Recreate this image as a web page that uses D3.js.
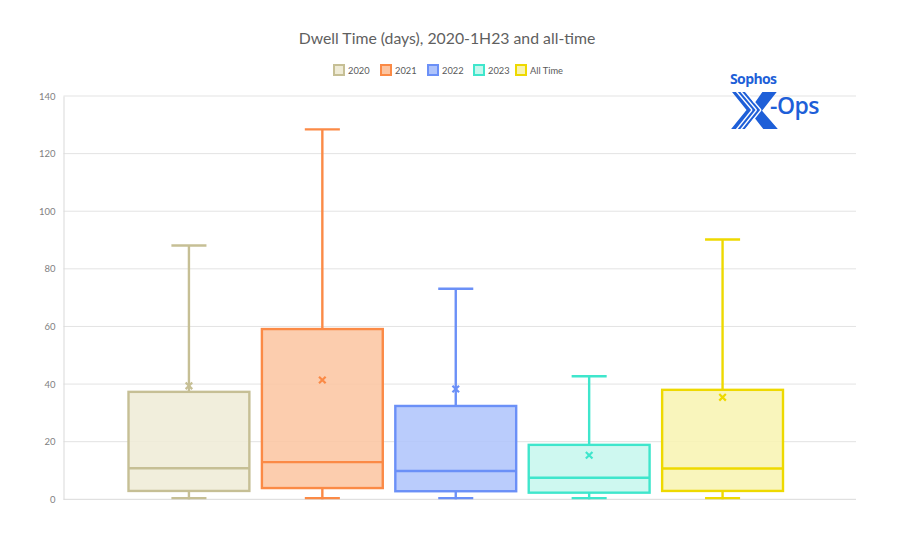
<!DOCTYPE html>
<html>
<head>
<meta charset="utf-8">
<script src="https://cdn.jsdelivr.net/npm/d3@7"></script>
<style>
  html, body { margin: 0; padding: 0; background: #fff; }
  svg { display: block; }
</style>
</head>
<body>
<svg id="chart" width="910" height="551"></svg>
<script>
// ---- data ----
const series = ["2020", "2021", "2022", "2023", "All Time"];
const whiskerMin = [0, 0, 0, 0, 0];
const q1 = [2.9, 3.9, 2.8, 2.3, 2.9];
const median = [10.8, 12.9, 9.8, 7.5, 10.7];
const q3 = [37.3, 59.1, 32.4, 18.9, 38.0];
const whiskerMax = [88.1, 128.4, 73.1, 42.7, 90.2];
const mean = [39.4, 41.4, 38.3, 15.3, 35.4];
const yTicks = [0, 20, 40, 60, 80, 100, 120, 140];
const strokeColors = ["#c6bf95", "#fb8a46", "#6b90f7", "#3fe6cc", "#eed900"];
const fillColors = ["#efebd6", "#fcc4a0", "#aec3fb", "#c5f7ed", "#f8f3b0"];

const svg = d3.select("#chart");
const font = "Lato, 'Open Sans', sans-serif";

const y = d3.scaleLinear().domain([0, 140]).range([499.3, 96]);
const x = d3.scaleBand().domain(series).range([128.5, 783]).paddingInner(0.094).paddingOuter(0);
const plotLeft = 63.5, plotRight = 856;

// gridlines
svg.append("g").selectAll("line").data(yTicks.filter(d => d > 0)).join("line")
  .attr("x1", plotLeft).attr("x2", plotRight)
  .attr("y1", d => y(d)).attr("y2", d => y(d))
  .attr("stroke", "#e3e3e3").attr("stroke-width", 1);

// y axis
const yAxis = d3.axisLeft(y).tickValues(yTicks).tickSize(0).tickPadding(8);
const gy = svg.append("g").attr("transform", `translate(${plotLeft},0)`).call(yAxis);
gy.select(".domain").attr("stroke", "#d9d9d9");
gy.selectAll("text").attr("fill", "#7f7f7f").attr("font-family", font).attr("font-size", 9.5);

// x axis line
svg.append("line").attr("x1", plotLeft).attr("x2", plotRight)
  .attr("y1", y(0)).attr("y2", y(0)).attr("stroke", "#d9d9d9").attr("stroke-width", 1);

// boxes
const data = series.map((s, i) => ({
  s, i, min: whiskerMin[i], q1: q1[i], med: median[i], q3: q3[i], max: whiskerMax[i], mean: mean[i]
}));
const bw = x.bandwidth();
const capW = bw * 0.29;
const sw = 2.4;

const g = svg.append("g").selectAll("g").data(data).join("g");
// whiskers
g.append("line").attr("x1", d => x(d.s) + bw / 2).attr("x2", d => x(d.s) + bw / 2)
  .attr("y1", d => y(d.q3)).attr("y2", d => y(d.max))
  .attr("stroke", d => strokeColors[d.i]).attr("stroke-width", sw);
g.append("line").attr("x1", d => x(d.s) + bw / 2).attr("x2", d => x(d.s) + bw / 2)
  .attr("y1", d => y(d.q1)).attr("y2", d => y(d.min))
  .attr("stroke", d => strokeColors[d.i]).attr("stroke-width", sw);
// caps
["max", "min"].forEach(k => {
  g.append("line")
    .attr("x1", d => x(d.s) + bw / 2 - capW / 2).attr("x2", d => x(d.s) + bw / 2 + capW / 2)
    .attr("y1", d => y(d[k]) - (k === "min" ? 1.2 : 0)).attr("y2", d => y(d[k]) - (k === "min" ? 1.2 : 0))
    .attr("stroke", d => strokeColors[d.i]).attr("stroke-width", sw);
});
// box
g.append("rect").attr("x", d => x(d.s)).attr("width", bw)
  .attr("y", d => y(d.q3)).attr("height", d => y(d.q1) - y(d.q3))
  .attr("fill", d => fillColors[d.i]).attr("fill-opacity", 0.85)
  .attr("stroke", d => strokeColors[d.i]).attr("stroke-width", sw);
// median
g.append("line").attr("x1", d => x(d.s)).attr("x2", d => x(d.s) + bw)
  .attr("y1", d => y(d.med)).attr("y2", d => y(d.med))
  .attr("stroke", d => strokeColors[d.i]).attr("stroke-width", sw);
// mean marker (x)
const m = 3.3;
g.append("path")
  .attr("d", d => {
    const cx = x(d.s) + bw / 2, cy = y(d.mean);
    return `M${cx - m},${cy - m}L${cx + m},${cy + m}M${cx - m},${cy + m}L${cx + m},${cy - m}`;
  })
  .attr("stroke", d => strokeColors[d.i]).attr("stroke-width", 2.2).attr("fill", "none");

// title
svg.append("text").attr("x", 447).attr("y", 44).attr("text-anchor", "middle")
  .attr("font-family", font).attr("font-size", 15.8).attr("fill", "#5f5f5f")
  .text("Dwell Time (days), 2020-1H23 and all-time");

// legend
const legendX = [333, 380, 427, 473, 515];
const lg = svg.append("g").selectAll("g").data(data).join("g")
  .attr("transform", d => `translate(${legendX[d.i]},64)`);
lg.append("rect").attr("x", 1).attr("y", 1).attr("width", 10).attr("height", 10)
  .attr("fill", d => fillColors[d.i]).attr("stroke", d => strokeColors[d.i]).attr("stroke-width", 2);
lg.append("text").attr("x", 15).attr("y", 9.5)
  .attr("font-family", font).attr("font-size", 9.3).attr("fill", "#595959")
  .text(d => d.s);

// logo
const logo = svg.append("g").attr("font-family", "'Open Sans', Roboto, sans-serif").attr("fill", "#1e5fd8");
const lt = logo.append("text");
lt.append("tspan").attr("x", 730).attr("y", 84).attr("font-size", 14).attr("font-weight", 700)
  .attr("letter-spacing", -0.6).text("Sophos");
lt.append("tspan").attr("x", 731).attr("y", 129).attr("font-size", 52).attr("font-weight", 800)
  .attr("letter-spacing", 0)
  .attr("textLength", 47).attr("lengthAdjust", "spacingAndGlyphs").text("X");
lt.append("tspan").attr("x", 770).attr("y", 114).attr("font-size", 23).attr("font-weight", 600)
  .attr("letter-spacing", -0.5).text("-Ops");
// stripes on the X
const stripes = logo.append("g").attr("stroke", "#fff").attr("stroke-width", 1.3);
[0, 4.5, 9].forEach(o => {
  stripes.append("line").attr("x1", 736 + o).attr("y1", 91).attr("x2", 752 + o).attr("y2", 110);
  stripes.append("line").attr("x1", 752 + o).attr("y1", 110).attr("x2", 736 + o).attr("y2", 130);
});
</script>
</body>
</html>
